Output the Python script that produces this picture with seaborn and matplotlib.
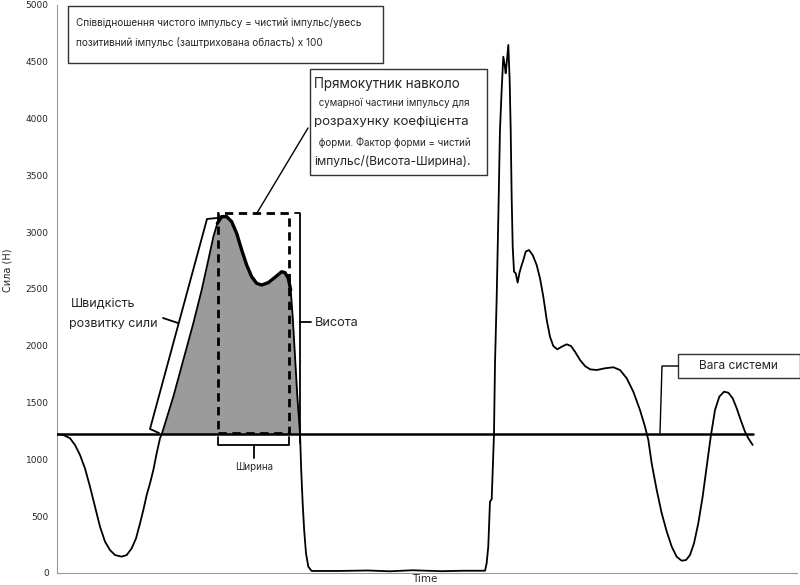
import numpy as np
import pandas as pd
import matplotlib
matplotlib.use("Agg")
import matplotlib.pyplot as plt
from matplotlib.patches import Rectangle
from matplotlib.lines import Line2D
import seaborn as sns

# force-time trace (time in arbitrary units 0..1000)
time = [0, 8.6, 17.6, 24.3, 31.1, 37.8, 44.6, 51.4, 58.1, 64.9, 71.6, 78.4,
        87.4, 94.2, 100.9, 106.8, 112.2, 116.7, 121.2, 125.7, 130.2, 134.7,
        139.2, 141.5,
        157.2, 170.7, 184.2, 195.5, 204.5, 211.3, 216.7, 222.5, 229.3, 236.0,
        242.8, 249.6, 256.3, 263.1, 269.8, 276.6, 285.5, 294.6, 303.6, 308.1,
        312.6, 315.8, 318.5, 321.6, 324.8, 328.4,
        330.0, 332.0, 334.0, 336.5, 339.6, 344.0, 380, 420, 450, 480, 520, 550,
        578.4, 580.6, 582.8, 584.2, 585.1, 587.4, 588.8, 590.5, 591.9, 594.2,
        596.4, 598.6, 600.9, 603.1, 605.0, 606.3, 608.1, 609.9, 611.7, 613.1,
        614.4, 615.8, 617.6, 619.9, 622.5, 624.8, 627.0, 630.2, 633.4, 637.8,
        642.8, 648.2, 652.7, 657.2, 661.8, 666.2, 670.7, 676.1, 682.0, 688.8,
        694.6, 700.0, 706.8, 713.5, 720.3, 729.3, 740.5, 751.8, 760.8, 769.9,
        778.8, 787.8, 794.6, 799.1,
        803.6, 810.4, 817.2, 824.0, 830.7, 837.4, 844.2, 850.0, 855.4, 860.8,
        866.6, 872.5, 877.9, 883.4, 889.2, 895.0, 901.4, 907.2, 913.1, 918.5,
        923.9, 929.7, 934.2, 940.1]
force = [1221, 1215, 1186, 1127, 1039, 921, 760, 584, 408, 276, 202, 158,
         144, 158, 217, 305, 437, 555, 687, 790, 907, 1054,
         1186, 1221,
         1552, 1875, 2198, 2491, 2755, 2960, 3078, 3137, 3137, 3093,
         2990, 2843, 2711, 2608, 2550, 2535, 2556, 2603, 2652, 2644,
         2594, 2491, 2256, 1904, 1552, 1230,
         907, 613, 378, 173, 56, 18, 18, 22, 15, 24, 16, 20,
         20, 85, 232, 467, 628, 649, 907, 1215, 1846, 2432,
         3137, 3900, 4252, 4545, 4472, 4399, 4516, 4648, 4340, 3900,
         3313, 2873, 2652, 2638, 2556, 2638, 2691, 2755, 2829, 2843,
         2799, 2711, 2594, 2432, 2227, 2080, 1998, 1969, 1992, 2013,
         1998, 1948, 1875, 1822, 1793, 1787, 1802, 1811, 1787, 1714,
         1596, 1435, 1288, 1171,
         966, 731, 525, 364, 232, 143, 108, 114, 158, 261,
         437, 672, 936, 1200, 1435, 1552, 1596, 1587, 1538, 1450,
         1347, 1244, 1186, 1127]
weight = 1220
shade_start, shade_end = 141.5, 328.4
thick_start, thick_end = 216.7, 315.8

yticks = list(range(0, 5001, 500))
xticks = [0, 200, 400, 600, 800, 1000]

df = pd.DataFrame({"t": time, "f": force})

sns.set_style("white")
plt.rcParams["font.family"] = ["DejaVu Sans"]
ann_font = ["Inter", "DejaVu Sans"]

W, H = 800, 585
fig = plt.figure(figsize=(W / 100, H / 100), dpi=100)
ax = fig.add_axes([57 / W, 12 / H, 740 / W, 568 / H])


def fx(px):
    return px / W


def fy(py):
    return 1 - py / H


def fline(xs, ys, **kw):
    kw.setdefault("color", "black")
    kw.setdefault("lw", 1.2)
    fig.add_artist(Line2D([fx(x) for x in xs], [fy(y) for y in ys], **kw))


# shaded positive impulse
sub = df[(df.t >= shade_start) & (df.t <= shade_end)]
ax.fill_between(sub.t, sub.f, weight, color="#9b9b9b", lw=0, zorder=1)

sns.lineplot(data=df, x="t", y="f", color="black", linewidth=1.3,
             estimator=None, ax=ax, zorder=3)
thick = df[(df.t >= thick_start) & (df.t <= thick_end)]
sns.lineplot(data=thick, x="t", y="f", color="black", linewidth=2.4,
             estimator=None, ax=ax, zorder=4)

# body weight line
ax.plot([time[0], time[-1]], [weight, weight], color="black", lw=1.8, zorder=5)

ax.set_xlim(0, 1000)
ax.set_ylim(0, 5000)
ax.set_xticks(xticks)
ax.set_xticklabels([])
ax.set_yticks(yticks)
ax.set_yticklabels([str(v) for v in yticks], fontsize=6.5)
ax.tick_params(axis="both", length=4, width=0.8, color="#888888", pad=2)
ax.set_xlabel("")
ax.set_ylabel("")
for s in ["top", "right"]:
    ax.spines[s].set_visible(False)
for s in ["left", "bottom"]:
    ax.spines[s].set_color("#999999")
    ax.spines[s].set_linewidth(0.8)

fig.text(fx(8), fy(270), "Сила (Н)", rotation=90, fontsize=7,
         ha="center", va="center")
fig.text(fx(425), fy(579), "Time", fontsize=7.5, ha="center", va="center")

# top text box
fig.add_artist(Rectangle((fx(68), fy(63)), fx(383) - fx(68), fy(6) - fy(63),
                         fill=False, lw=1.0, ec="#333333"))
fig.text(fx(76), fy(23), "Співвідношення чистого імпульсу = чистий імпульс/увесь",
         fontsize=7.2, family=ann_font, va="center")
fig.text(fx(76), fy(43), "позитивний імпульс (заштрихована область) x 100",
         fontsize=7.2, family=ann_font, va="center")

# shape factor box
fig.add_artist(Rectangle((fx(310), fy(175)), fx(487) - fx(310), fy(69) - fy(175),
                         fill=False, lw=1.0, ec="#333333"))
lines = [("Прямокутник навколо", 9.7, 314, 84),
         (" сумарної частини імпульсу для", 7, 316, 103),
         ("розрахунку коефіцієнта", 9.6, 314, 122),
         (" форми. Фактор форми = чистий", 7, 316, 143),
         ("імпульс/(Висота-Ширина).", 8.7, 314, 162)]
for txt, fs, px, py in lines:
    fig.text(fx(px), fy(py), txt, fontsize=fs, family=ann_font, va="center")
fline([308, 257], [128, 213], lw=1.0)

# dashed rectangle
fig.add_artist(Rectangle((fx(218), fy(433)), fx(289) - fx(218), fy(213) - fy(433),
                         fill=False, lw=2.0, ec="black", ls=(0, (3, 2))))

# height bracket
fline([295, 300, 300], [213, 213, 443], lw=1.3)
fline([300, 311], [322, 322], lw=1.3)
fig.text(fx(315), fy(323), "Висота", fontsize=9.2, family=ann_font, va="center")

# rate of force development bracket
fline([159, 150, 207, 217], [433, 429, 219, 218], lw=1.3)
fline([163, 178], [318, 323], lw=1.3)
fig.text(fx(71), fy(304), "Швидкість", fontsize=9, family=ann_font, va="center")
fig.text(fx(69), fy(324), "розвитку сили", fontsize=9, family=ann_font, va="center")

# width bracket
fline([218, 218, 289, 289], [437, 445, 445, 437], lw=1.3)
fline([254, 254], [445, 458], lw=1.3)
fig.text(fx(254), fy(467), "Ширина", fontsize=7, family=ann_font,
         ha="center", va="center")

# system weight box
fig.add_artist(Rectangle((fx(678), fy(378)), fx(800) - fx(678), fy(354) - fy(378),
                         fill=False, lw=1.0, ec="#333333"))
fig.text(fx(738), fy(366), "Вага системи", fontsize=8.6, family=ann_font,
         ha="center", va="center")
fline([678, 662, 660], [366, 366, 433], lw=1.0)

fig.savefig("out.png", dpi=100)
